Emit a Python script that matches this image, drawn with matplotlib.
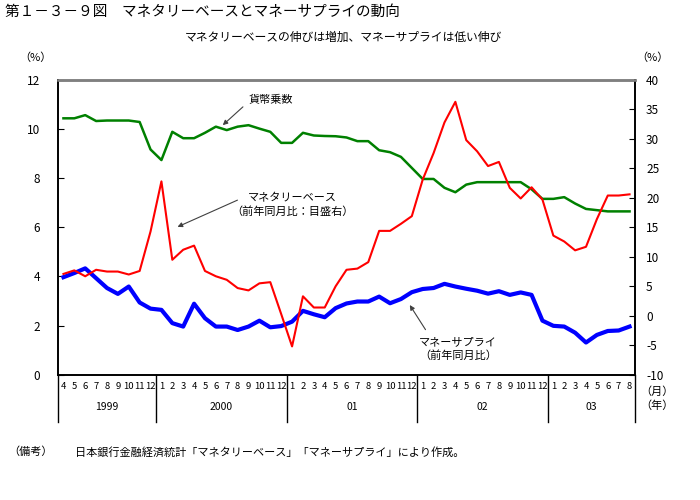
import matplotlib
matplotlib.use('Agg')
import matplotlib.pyplot as plt
import matplotlib.transforms as mtransforms
import numpy as np

plt.rcParams['font.family'] = ['Noto Sans CJK JP', 'DejaVu Sans']
plt.rcParams['axes.unicode_minus'] = False

# months Apr 1999 - Aug 2003
months = [4, 5, 6, 7, 8, 9, 10, 11, 12] + list(range(1, 13)) * 3 + [1, 2, 3, 4, 5, 6, 7, 8]
year_labels = ['1999', '2000', '01', '02', '03']
year_lengths = [9, 12, 12, 12, 8]

# 貨幣乗数 (left axis)
multiplier = [10.44, 10.44, 10.57, 10.33, 10.35, 10.35, 10.35, 10.29, 9.17,
              8.74, 9.89, 9.63, 9.63, 9.85, 10.10, 9.96, 10.10, 10.16, 10.02, 9.89, 9.44,
              9.44, 9.85, 9.74, 9.72, 9.71, 9.66, 9.51, 9.51, 9.14, 9.06, 8.87, 8.42,
              7.97, 7.97, 7.61, 7.43, 7.74, 7.84, 7.84, 7.84, 7.84, 7.84, 7.55, 7.16,
              7.16, 7.23, 6.97, 6.75, 6.70, 6.65, 6.65, 6.65]

# マネタリーベース 前年同月比 (right axis)
monetary_base = [7.1, 7.7, 6.7, 7.8, 7.5, 7.5, 7.0, 7.6, 14.3,
                 22.8, 9.5, 11.2, 11.9, 7.6, 6.7, 6.1, 4.7, 4.3, 5.5, 5.7, 0.3,
                 -5.2, 3.3, 1.4, 1.4, 5.0, 7.8, 8.0, 9.1, 14.4, 14.4, 15.6, 16.9,
                 23.1, 27.6, 32.8, 36.3, 29.8, 27.9, 25.4, 26.1, 21.7, 19.9, 21.8, 19.7,
                 13.6, 12.6, 11.1, 11.7, 16.4, 20.4, 20.4, 20.6]

# マネーサプライ 前年同月比 (left axis)
money_supply = [3.97, 4.14, 4.33, 3.93, 3.53, 3.29, 3.59, 2.94, 2.69,
                2.64, 2.10, 1.96, 2.89, 2.30, 1.96, 1.96, 1.82, 1.96, 2.20, 1.93, 1.98,
                2.16, 2.60, 2.46, 2.34, 2.71, 2.90, 2.98, 2.98, 3.18, 2.91, 3.08, 3.36,
                3.49, 3.53, 3.70, 3.59, 3.50, 3.42, 3.30, 3.40, 3.25, 3.35, 3.25, 2.20,
                1.99, 1.96, 1.71, 1.31, 1.62, 1.78, 1.80, 1.96]

x = np.arange(len(months))

W, H = 700, 500
fig = plt.figure(figsize=(7, 5), dpi=100)
left, right, top, bottom = 58, 635, 80, 374.7
ax = fig.add_axes([left / W, 1 - bottom / H, (right - left) / W, (bottom - top) / H])
ax2 = ax.twinx()

ax.plot(x, multiplier, color='#008000', lw=1.8, zorder=3)
ax.plot(x, money_supply, color='#0000ff', lw=3.0, zorder=3)
ax2.plot(x, monetary_base, color='#ff0000', lw=1.5, zorder=3)

ax.set_xlim(-0.5, len(months) - 0.5)
ax.set_ylim(0, 12)
ax.set_yticks(np.arange(0, 13, 2))
ax2.set_ylim(-10, 40)
ax2.set_yticks(np.arange(-10, 41, 5))

ax.tick_params(axis='y', direction='in', length=4, labelsize=8.5, pad=13)
ax2.tick_params(axis='y', direction='in', length=4, labelsize=8.5, pad=8)
ax.set_xticks(x)
ax.set_xticklabels([str(m) for m in months], fontsize=6.8)
ax.tick_params(axis='x', length=0, pad=5)

for a in (ax, ax2):
    for s in a.spines.values():
        s.set_linewidth(1.2)
        s.set_color('black')
    a.spines['top'].set_color('#808080')
    a.spines['top'].set_linewidth(1.8)

# year separators and labels below the axis
trans = mtransforms.blended_transform_factory(ax.transData, ax.transAxes)
depth = -(422 - bottom) / (bottom - top)
edges = np.concatenate([[0], np.cumsum(year_lengths)]) - 0.5
for e in edges:
    ax.plot([e, e], [0, depth], color='black', lw=1.0, transform=trans, clip_on=False)
ylab = -(407 - bottom) / (bottom - top)
for i, lab in enumerate(year_labels):
    ax.text((edges[i] + edges[i + 1]) / 2, ylab, lab, transform=trans,
            ha='center', va='center', fontsize=7.5)

def fx(px):
    return px / W

def fy(py):
    return 1 - py / H

fig.text(fx(5), fy(12), '第１－３－９図　マネタリーベースとマネーサプライの動向',
         ha='left', va='center', fontsize=10.5)
fig.text(fx(343), fy(37), 'マネタリーベースの伸びは増加、マネーサプライは低い伸び',
         ha='center', va='center', fontsize=8.5)
fig.text(fx(35), fy(58), '（%）', ha='center', va='center', fontsize=8)
fig.text(fx(652), fy(58), '（%）', ha='center', va='center', fontsize=8)
fig.text(fx(640), fy(392), '（月）', ha='left', va='center', fontsize=8)
fig.text(fx(640), fy(406), '（年）', ha='left', va='center', fontsize=8)
fig.text(fx(8), fy(452), '（備考）', ha='left', va='center', fontsize=8)
fig.text(fx(75), fy(452), '日本銀行金融経済統計「マネタリーベース」「マネーサプライ」により作成。',
         ha='left', va='center', fontsize=8)

arrow = dict(arrowstyle='-|>', color='#404040', lw=0.8, mutation_scale=7)
fig.text(fx(249), fy(100), '貨幣乗数', ha='left', va='center', fontsize=8)
ax.annotate('', xy=(fx(220.7), fy(127)), xytext=(fx(245), fy(105)),
            xycoords='figure fraction', arrowprops=arrow)
fig.text(fx(292), fy(205), 'マネタリーベース\n（前年同月比：目盛右）', ha='center', va='center',
         fontsize=8, linespacing=1.3)
ax.annotate('', xy=(fx(175), fy(228)), xytext=(fx(240), fy(199)),
            xycoords='figure fraction', arrowprops=arrow)
fig.text(fx(458), fy(349), 'マネーサプライ\n（前年同月比）', ha='center', va='center',
         fontsize=8, linespacing=1.3)
ax.annotate('', xy=(fx(408.3), fy(302.7)), xytext=(fx(427), fy(332)),
            xycoords='figure fraction', arrowprops=arrow)

fig.savefig('out.png', dpi=100)
